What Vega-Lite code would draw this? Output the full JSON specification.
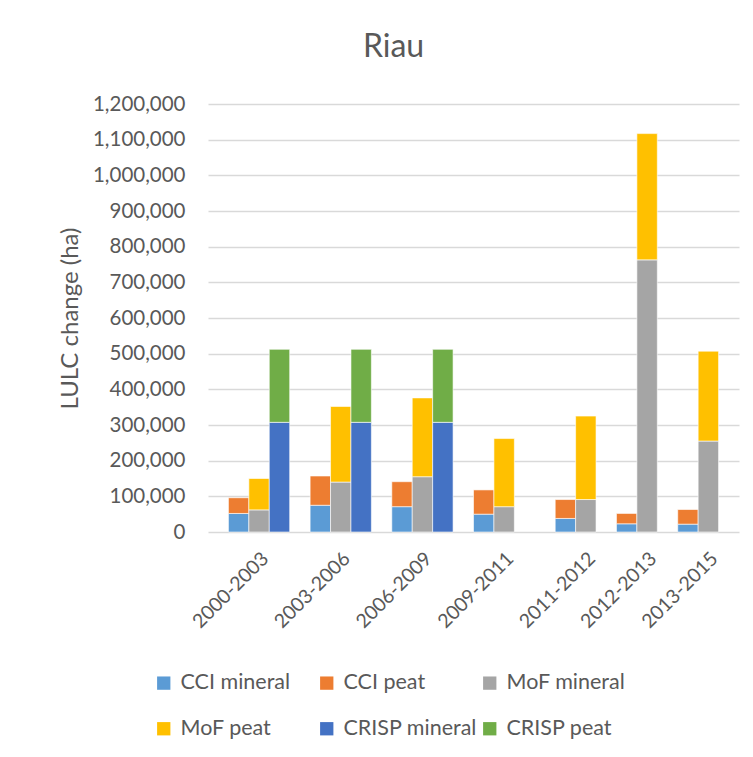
{
  "$schema": "https://vega.github.io/schema/vega-lite/v6.json",
  "width": 531,
  "height": 428,
  "autosize": {"type": "none"},
  "padding": {"left": 208, "top": 104, "right": 14, "bottom": 225},
  "background": "white",
  "title": {
    "text": "Riau",
    "font": "Lato",
    "fontSize": 32,
    "fontWeight": "normal",
    "color": "#595959",
    "anchor": "middle",
    "dx": -80,
    "offset": 30
  },
  "data": {
    "values": [
      {"column": "2000-2003 CCI", "series": "CCI mineral", "cover": "mineral", "ha": 52000},
      {"column": "2000-2003 CCI", "series": "CCI peat", "cover": "peat", "ha": 44000},
      {"column": "2000-2003 MoF", "series": "MoF mineral", "cover": "mineral", "ha": 62000},
      {"column": "2000-2003 MoF", "series": "MoF peat", "cover": "peat", "ha": 88000},
      {"column": "2000-2003 CRISP", "series": "CRISP mineral", "cover": "mineral", "ha": 307500},
      {"column": "2000-2003 CRISP", "series": "CRISP peat", "cover": "peat", "ha": 204700},

      {"column": "2003-2006 CCI", "series": "CCI mineral", "cover": "mineral", "ha": 75000},
      {"column": "2003-2006 CCI", "series": "CCI peat", "cover": "peat", "ha": 82000},
      {"column": "2003-2006 MoF", "series": "MoF mineral", "cover": "mineral", "ha": 140000},
      {"column": "2003-2006 MoF", "series": "MoF peat", "cover": "peat", "ha": 212000},
      {"column": "2003-2006 CRISP", "series": "CRISP mineral", "cover": "mineral", "ha": 307500},
      {"column": "2003-2006 CRISP", "series": "CRISP peat", "cover": "peat", "ha": 204700},

      {"column": "2006-2009 CCI", "series": "CCI mineral", "cover": "mineral", "ha": 71000},
      {"column": "2006-2009 CCI", "series": "CCI peat", "cover": "peat", "ha": 70000},
      {"column": "2006-2009 MoF", "series": "MoF mineral", "cover": "mineral", "ha": 155000},
      {"column": "2006-2009 MoF", "series": "MoF peat", "cover": "peat", "ha": 221000},
      {"column": "2006-2009 CRISP", "series": "CRISP mineral", "cover": "mineral", "ha": 307500},
      {"column": "2006-2009 CRISP", "series": "CRISP peat", "cover": "peat", "ha": 204700},

      {"column": "2009-2011 CCI", "series": "CCI mineral", "cover": "mineral", "ha": 50000},
      {"column": "2009-2011 CCI", "series": "CCI peat", "cover": "peat", "ha": 68000},
      {"column": "2009-2011 MoF", "series": "MoF mineral", "cover": "mineral", "ha": 71000},
      {"column": "2009-2011 MoF", "series": "MoF peat", "cover": "peat", "ha": 191000},

      {"column": "2011-2012 CCI", "series": "CCI mineral", "cover": "mineral", "ha": 38000},
      {"column": "2011-2012 CCI", "series": "CCI peat", "cover": "peat", "ha": 53000},
      {"column": "2011-2012 MoF", "series": "MoF mineral", "cover": "mineral", "ha": 91000},
      {"column": "2011-2012 MoF", "series": "MoF peat", "cover": "peat", "ha": 234000},

      {"column": "2012-2013 CCI", "series": "CCI mineral", "cover": "mineral", "ha": 23000},
      {"column": "2012-2013 CCI", "series": "CCI peat", "cover": "peat", "ha": 29000},
      {"column": "2012-2013 MoF", "series": "MoF mineral", "cover": "mineral", "ha": 763000},
      {"column": "2012-2013 MoF", "series": "MoF peat", "cover": "peat", "ha": 354000},

      {"column": "2013-2015 CCI", "series": "CCI mineral", "cover": "mineral", "ha": 22000},
      {"column": "2013-2015 CCI", "series": "CCI peat", "cover": "peat", "ha": 41000},
      {"column": "2013-2015 MoF", "series": "MoF mineral", "cover": "mineral", "ha": 255000},
      {"column": "2013-2015 MoF", "series": "MoF peat", "cover": "peat", "ha": 252000}
    ]
  },
  "mark": {"type": "bar", "stroke": "white", "strokeWidth": 0.6},
  "encoding": {
    "x": {
      "field": "column",
      "type": "nominal",
      "scale": {
        "domain": [
          " ",
          "2000-2003 CCI", "2000-2003 MoF", "2000-2003 CRISP", "2000-2003 -",
          "2003-2006 CCI", "2003-2006 MoF", "2003-2006 CRISP", "2003-2006 -",
          "2006-2009 CCI", "2006-2009 MoF", "2006-2009 CRISP", "2006-2009 -",
          "2009-2011 CCI", "2009-2011 MoF", "2009-2011 CRISP", "2009-2011 -",
          "2011-2012 CCI", "2011-2012 MoF", "2011-2012 -",
          "2012-2013 CCI", "2012-2013 MoF", "2012-2013 -",
          "2013-2015 CCI", "2013-2015 MoF", "2013-2015 -"
        ],
        "paddingInner": 0,
        "paddingOuter": 0
      },
      "axis": {
        "title": null,
        "domain": false,
        "ticks": false,
        "grid": false,
        "labelAngle": -45,
        "labelOverlap": false,
        "labelBound": false,
        "labelFlush": false,
        "labelPadding": 17,
        "labelFont": "Lato",
        "labelFontSize": 19.5,
        "labelColor": "#595959",
        "labelExpr": "indexof(datum.value, 'MoF') > 0 ? substring(datum.value, 0, 9) : ''"
      }
    },
    "y": {
      "field": "ha",
      "type": "quantitative",
      "aggregate": "sum",
      "stack": "zero",
      "scale": {"domain": [0, 1200000], "nice": false},
      "axis": {
        "title": "LULC change (ha)",
        "titleFont": "Lato",
        "titleFontSize": 24,
        "titleFontWeight": "normal",
        "titleColor": "#595959",
        "titlePadding": 10,
        "values": [0, 100000, 200000, 300000, 400000, 500000, 600000, 700000, 800000, 900000, 1000000, 1100000, 1200000],
        "format": ",d",
        "domain": false,
        "ticks": false,
        "labelPadding": 23,
        "labelFont": "Lato",
        "labelFontSize": 20.5,
        "labelColor": "#595959",
        "gridColor": "#D9D9D9",
        "gridWidth": 1.5
      }
    },
    "color": {
      "field": "series",
      "type": "nominal",
      "scale": {
        "domain": ["CCI mineral", "CCI peat", "MoF mineral", "MoF peat", "CRISP mineral", "CRISP peat"],
        "range": ["#5B9BD5", "#ED7D31", "#A5A5A5", "#FFC000", "#4472C4", "#70AD47"]
      },
      "legend": {
        "title": null,
        "orient": "none",
        "legendX": -55,
        "legendY": 568,
        "direction": "horizontal",
        "columns": 3,
        "gridAlign": "all",
        "columnPadding": 1,
        "rowPadding": 23,
        "symbolType": "square",
        "symbolSize": 177,
        "symbolStrokeWidth": 0,
        "labelOffset": 6,
        "labelFont": "Lato",
        "labelFontSize": 21.5,
        "labelColor": "#595959"
      }
    },
    "order": {"field": "cover", "sort": "ascending"}
  },
  "config": {
    "view": {"stroke": null}
  }
}
